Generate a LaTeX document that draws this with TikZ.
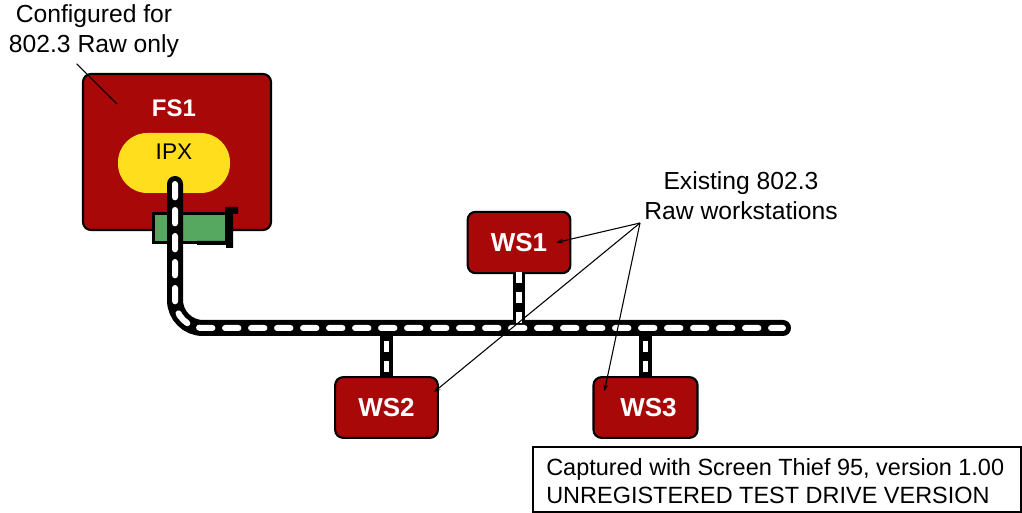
\documentclass[tikz,border=0pt]{standalone}
\usepackage{fontspec}
\setmainfont{Liberation Sans}
\usetikzlibrary{arrows.meta,calc}
\definecolor{dred}{RGB}{168,8,8}
\definecolor{ipxy}{RGB}{255,222,30}
\definecolor{cardg}{RGB}{86,168,96}
\begin{document}
\begin{tikzpicture}[x=0.75pt,y=-0.75pt,
  box/.style={draw=black, line width=1.6pt, fill=dred, rounded corners=6pt, inner sep=0pt},
  lbl/.style={font=\fontsize{18.5}{22.5}\selectfont, align=center, inner sep=0pt},
  wsl/.style={text=white, font=\bfseries\fontsize{19.5}{22}\selectfont, inner sep=0pt},
  lead/.style={draw=black, line width=0.8pt},
  leadarr/.style={lead, -{Stealth[length=5pt,width=3.5pt]}},
  cab/.style={line width=12pt, black, line cap=round},
  cabw/.style={line width=4.5pt, white, dash pattern=on 10pt off 9.5pt, line cap=round},
  drop/.style={line width=9.5pt, black},
  dropw/.style={line width=3.8pt, white, dash pattern=on 8pt off 7pt}
]
\useasboundingbox (0,0) rectangle (1022,513);
% labels
\node[lbl] (cfg) at (94,31) {Configured for\\802.3 Raw only};
\node[lbl] (ex) at (741,196) {Existing 802.3\\Raw workstations};

% FS1 box
\node[box, minimum width=141pt, minimum height=117pt] (fs1) at (177,152) {};
\node[wsl, font=\bfseries\fontsize{18}{20}\selectfont] (fs1l) at (174,108) {FS1};
\node[fill=ipxy, rounded corners=22pt, minimum width=84pt, minimum height=45pt, inner sep=0pt] (ipx) at (174,163) {};
\node[font=\fontsize{17}{19}\selectfont, inner sep=0pt] (ipxl) at (174,152) {IPX};

% network card
\node[draw=black, line width=1.8pt, fill=cardg, minimum width=55pt, minimum height=22pt, inner sep=0pt] (card) at (190,228) {};
\fill[black] (225,207) -- (238,207) -- (238,214) -- (233,214) -- (233,248) -- (226,248) -- (226,245) -- (197,245) -- (197,241) -- (226,241) -- cycle;

% workstations
\node[box, minimum width=77pt, minimum height=46pt] (ws1) at (519,242.5) {};
\node[wsl] at (ws1) {WS1};
\node[box, minimum width=77pt, minimum height=45.5pt] (ws2) at (386.5,407.5) {};
\node[wsl] at (ws2) {WS2};
\node[box, minimum width=78pt, minimum height=45.5pt] (ws3) at (645.5,407.5) {};
\node[wsl] at ($(ws3)+(3,0)$) {WS3};

% cable
\coordinate (c0) at (175,184);
\coordinate (c1) at (783,328);
\draw[drop] (ws1.south) -- (ws1.south |- c1);
\draw[drop] (ws2.north) -- (ws2.north |- c1);
\draw[drop] (ws3.north) -- (ws3.north |- c1);
\draw[cab, rounded corners=21pt] (c0) |- (c1);
\draw[cabw, rounded corners=21pt] (c0) |- (c1);
\draw[dropw] ($(ws1.south)+(0,-2)$) -- ($(ws1.south |- c1)+(0,4)$);
\draw[dropw] ($(ws2.north)+(0,-4)$) -- ($(ws2.north |- c1)+(0,6)$);
\draw[dropw] ($(ws3.north)+(0,-4)$) -- ($(ws3.north |- c1)+(0,6)$);

% leaders
\coordinate (apex) at (640,223);
\draw[leadarr] (apex) -- ($(ws1.east)+(-15,0)$);
\draw[leadarr] (apex) -- ($(ws2.north east)+(-5,16)$);
\draw[leadarr] (apex) -- ($(ws3.north west)+(12,15)$);
\draw[lead] (cfg.south west) ++(68,6) coordinate (cfgp) -- ($(fs1.north west)+(35,31)$);

% capture notice
\node[draw=black, line width=1.6pt, anchor=north west, minimum width=366pt, minimum height=49pt, inner sep=0pt] (cap) at (532,446) {};
\node[anchor=west, align=left, inner sep=0pt, font=\fontsize{17.6}{21}\selectfont] (capt) at (546,481) {Captured with Screen Thief 95, version 1.00\\UNREGISTERED TEST DRIVE VERSION};
\end{tikzpicture}
\end{document}
